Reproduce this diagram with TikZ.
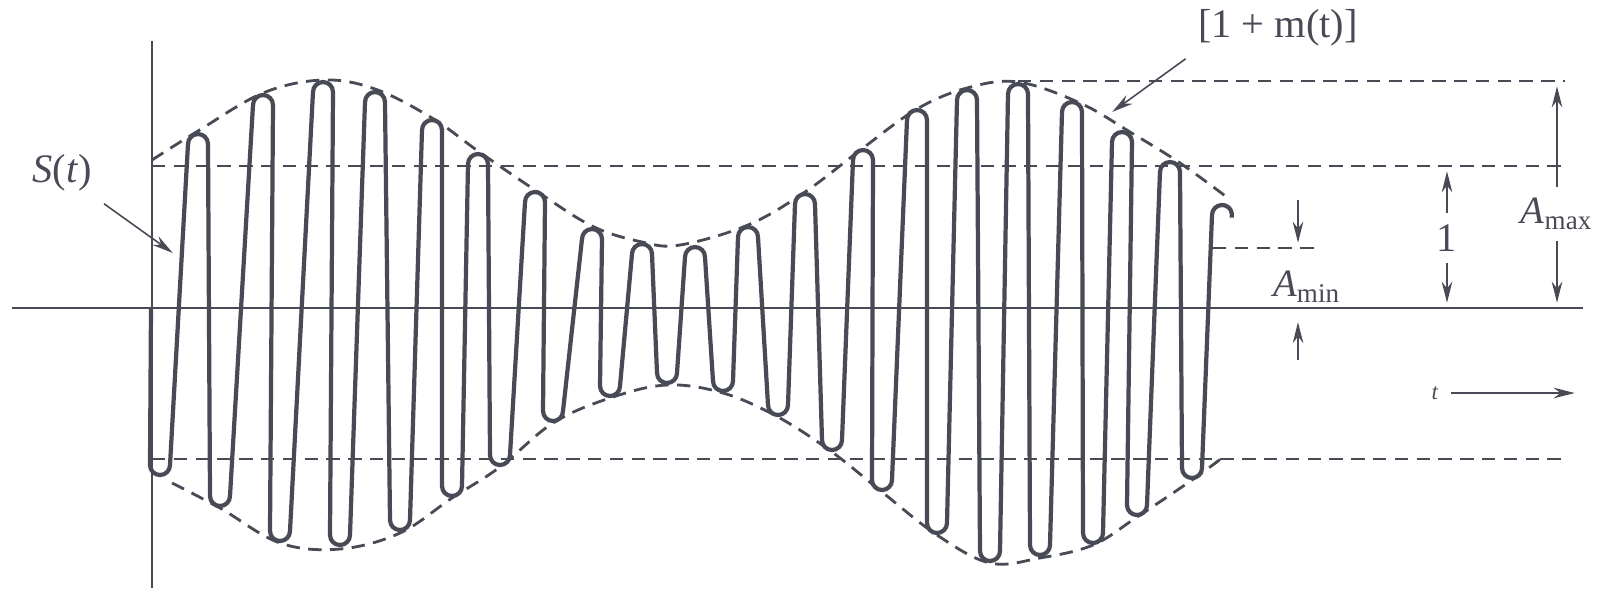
\documentclass[tikz,border=0pt]{standalone}
\usepackage{fontspec}
\setmainfont{Liberation Serif}
\usetikzlibrary{arrows.meta}
\definecolor{ink}{RGB}{72,74,86}

\begin{document}
\begin{tikzpicture}[x=0.01cm, y=0.01cm, every node/.style={font=\fontsize{11.5}{13}\selectfont, text=ink}]
  \tikzset{
    axis/.style={draw=ink, line width=0.8pt},
    wave/.style={draw=ink, line width=1.2pt, line join=round},
    env/.style={draw=ink, line width=0.8pt, dash pattern=on 3.8pt off 2.4pt},
    dim/.style={draw=ink, line width=0.45pt, shorten >=1.5pt, -{Stealth[length=6pt, width=3pt]}},
    lbl/.style={inner sep=3pt}
  }
  \useasboundingbox (0,-282) rectangle (1611,308);
  \coordinate (o) at (152,0);
  \coordinate (hi) at (1565,142);
  \coordinate (top) at (1565,227);
  \coordinate (lo) at (1565,-151);
  \coordinate (mn) at (1320,60);
  % axes
  \draw[axis] (12,0) -- (1583,0);
  \draw[axis, line width=0.6pt] (152,267) -- (152,-280);
  % levels
  \draw[env] (152,142) -- (hi);
  \draw[env] (1018,227) -- (top);
  \draw[env] (152,-151) -- (lo);
  \draw[env] (1213,60) -- (mn);
  % envelope
  \draw[env] plot[smooth, tension=0.6] coordinates {(152,148) (198,177) (263,215) (323,228) (375,219) (432,190) (478,157) (535,118) (592,82) (642,66) (680,63) (748,83) (805,116) (863,160) (917,199) (967,220) (1018,226) (1080,205) (1130,176) (1180,145) (1228,110)};
  \draw[env] plot[smooth, tension=0.6] coordinates {(172,-175) (220,-200) (280,-235) (340,-241) (400,-225) (452,-190) (500,-159) (553,-115) (610,-90) (667,-77) (723,-85) (778,-109) (832,-144) (882,-184) (937,-227) (990,-255) (1040,-250) (1093,-237) (1137,-209) (1192,-172) (1222,-150)};
  % carrier
  \draw[wave] (151,0)
    \foreach \xa/\ya/\xb/\yb in {160/-167/198/174, 220/-198/263/213, 280/-233/323/226, 340/-237/375/216, 400/-222/432/188, 452/-188/478/154, 500/-157/535/116, 553/-113/592/79, 610/-88/642/64, 667/-75/695/61, 723/-83/748/81, 778/-107/805/114, 832/-142/863/158, 882/-182/917/198, 937/-225/967/218, 990/-253/1018/224, 1040/-247/1072/206, 1093/-235/1122/176, 1137/-207/1170/146}
    { -- (\xa-10,\ya+10) arc[start angle=180, end angle=360, radius=10]
      -- (\xb-10,\yb-10) arc[start angle=180, end angle=0, radius=10] }
    -- (1182,-160) arc[start angle=180, end angle=360, radius=10]
    -- (1212,93) arc[start angle=180, end angle=-15, radius=10];
  % labels
  \node (slbl) at (62,135) {\textit{S}(\textit{t})};
  \coordinate (stip) at (177,52);
  \draw[dim] (slbl.south east) -- (stip);
  \node (mlbl) at (1278,280) {[1 + m(t)]};
  \coordinate (mtip) at (1108,193);
  \draw[dim] (mlbl.south west) -- (mtip);
  \node[lbl] (one) at (1447,70) {1};
  \draw[dim] (one) -- (one |- hi);
  \draw[dim] (one) -- (one |- o);
  \node[lbl, font=\fontsize{11}{13}\selectfont] (amax) at (1557,94) {\textit{A}\textsubscript{max}};
  \draw[dim] (amax) -- (amax |- top);
  \draw[dim] (amax) -- (amax |- o);
  \node[lbl, font=\fontsize{11}{13}\selectfont] (amin) at (1307,21) {\textit{A}\textsubscript{min}};
  \coordinate (mina) at (1298,108);
  \coordinate (minb) at (1298,-52);
  \draw[dim] (mina) -- (mina |- mn);
  \draw[dim, shorten >=4pt] (minb) -- (minb |- o);
  \node[font=\fontsize{6.5}{8}\selectfont] (tlbl) at (1435,-85) {\textit{t}};
  \coordinate (tend) at (1580,-85);
  \draw[dim, line width=0.6pt] (tlbl) -- (tend);
\end{tikzpicture}
\end{document}
